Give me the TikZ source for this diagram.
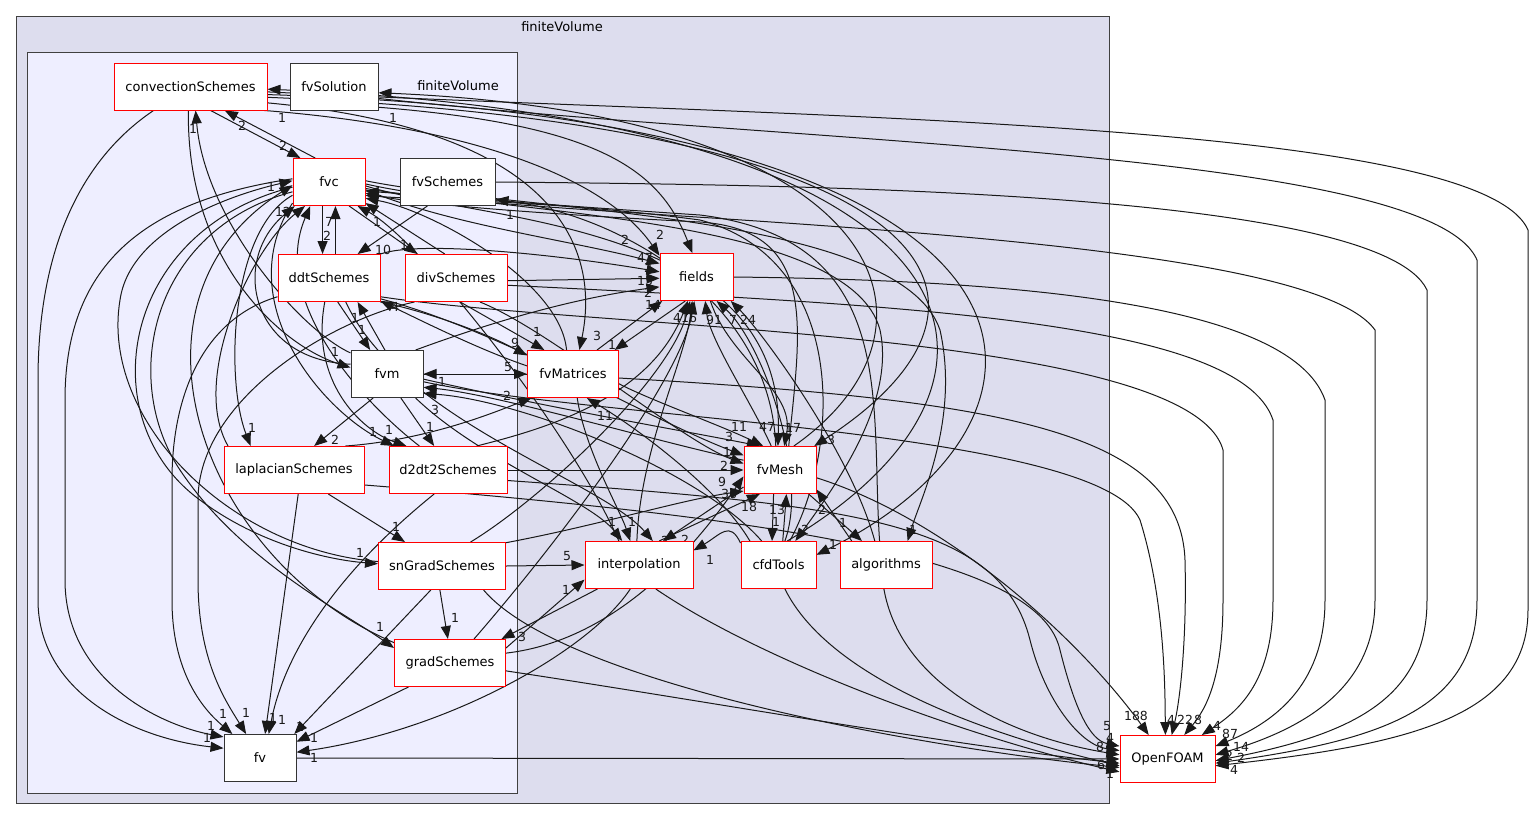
\documentclass[tikz,border=0pt]{standalone}
\usepackage{fontspec}
\setmainfont{DejaVu Sans}
\usepackage{tikz}
\usetikzlibrary{arrows.meta}
\definecolor{outerfill}{HTML}{DDDDEE}
\definecolor{innerfill}{HTML}{EEEEFF}
\pgfdeclarelayer{back}
\pgfdeclarelayer{links}
\pgfsetlayers{back,links,main}
\tikzset{
  dirnode/.style={draw=red, fill=white, line width=1pt, minimum height=47pt, inner sep=0pt, font=\fontsize{13}{15}\selectfont},
  leafnode/.style={dirnode, draw=black!80},
  dep/.style={-{Triangle[length=13pt,width=10pt]}, line width=1pt, black!90},
  cnt/.style={font=\fontsize{12.5}{13}\selectfont, inner sep=0pt},
  title/.style={font=\fontsize{13}{15}\selectfont},
}
\begin{document}
\begin{tikzpicture}[x=1pt, y=-1pt]
\useasboundingbox (0,0) rectangle (1535,820);
        % clusters
        \begin{pgfonlayer}{back}
        \draw[fill=outerfill, draw=black!75, line width=1pt] (16,16) rectangle (1109,803);
        \draw[fill=innerfill, draw=black!75, line width=1pt] (27,52) rectangle (517,793);
        \end{pgfonlayer}
        \node[title] (outertitle) at (562,27) {finiteVolume};
        \node[title] (innertitle) at (458,86) {finiteVolume};

        % directories
        \node[dirnode, minimum width=153pt] (cs) at (190.5,86.5) {convectionSchemes};
        \node[leafnode, minimum width=88pt] (fvsol) at (334,86.5) {fvSolution};
        \node[dirnode, minimum width=72pt] (fvc) at (329,182) {fvc};
        \node[leafnode, minimum width=95pt] (fvsch) at (447.5,182) {fvSchemes};
        \node[dirnode, minimum width=102pt] (ddt) at (329,278) {ddtSchemes};
        \node[dirnode, minimum width=102pt] (div) at (456,278) {divSchemes};
        \node[leafnode, minimum width=72pt] (fvm) at (387,374) {fvm};
        \node[dirnode, minimum width=140pt] (lap) at (294,470) {laplacianSchemes};
        \node[dirnode, minimum width=118pt] (d2dt2) at (448,470) {d2dt2Schemes};
        \node[dirnode, minimum width=127pt] (sngrad) at (442,566) {snGradSchemes};
        \node[dirnode, minimum width=111pt] (grad) at (450,663) {gradSchemes};
        \node[leafnode, minimum width=72pt] (fv) at (260,758) {fv};
        \node[dirnode, minimum width=73pt] (fields) at (696.5,277) {fields};
        \node[dirnode, minimum width=91pt] (fvmat) at (573,374) {fvMatrices};
        \node[dirnode, minimum width=72pt] (fvmesh) at (780,470) {fvMesh};
        \node[dirnode, minimum width=108pt] (interp) at (639,565) {interpolation};
        \node[dirnode, minimum width=75pt] (cfd) at (778.5,565) {cfdTools};
        \node[dirnode, minimum width=92pt] (algo) at (886,565) {algorithms};
        \node[dirnode, minimum width=95pt] (of) at (1167.5,759) {OpenFOAM};

        \begin{pgfonlayer}{links}
        % convectionSchemes
        \draw[dep] (cs.-50) -- (fvc.140) node[cnt] at (283,146) {2};
        \draw[dep] (cs.-147) .. controls (80,160) and (38,250) .. (38,380) -- (38,600) .. controls (38,690) and (130,738) .. (fv.165) node[cnt] at (207,738) {1};
        \draw[dep] (cs.-95) .. controls (186,260) and (280,345) .. (fvm.170) node[cnt] at (335,352) {1};
        \draw[dep] (cs.-18) .. controls (450,125) and (600,170) .. (fields.150) node[cnt] at (625,240) {2};
        \draw[dep] (cs.-12) .. controls (560,130) and (600,250) .. (fvmat.75) node[cnt] at (597,336) {3};
        \draw[dep] (cs.-8) .. controls (950,125) and (1040,300) .. (fvmesh.35) node[cnt] at (831,440) {3};
        \draw[dep] (cs.-6) .. controls (1100,120) and (1090,420) .. (cfd.15) node[cnt] at (833,545) {1};
        \draw[dep] (cs.-4) .. controls (800,118) and (1480,120) .. (1528,230) -- (1528,610) .. controls (1528,720) and (1400,745) .. (of.-8) node[cnt] at (1241,758) {2};
        \draw[dep] (fvsol.-15) .. controls (800,145) and (1430,150) .. (1477,260) -- (1477,600) .. controls (1477,710) and (1380,740) .. (of.-5) node[cnt] at (1234,770) {4};
        \draw[dep] (fvsol.-25) .. controls (600,125) and (660,170) .. (fields.100) node[cnt] at (660,235) {2};

        % fvc
        \draw[dep] (fvc.120) -- (cs.-35) node[cnt] at (242,126) {2};
        \draw[dep] (fvc.-105) -- (ddt.105) node[cnt] at (327,236) {2};
        \draw[dep] (ddt.75) -- (fvc.-75) node[cnt] at (329,222) {7};
        \draw[dep] (fvc.-50) -- (div.148) node[cnt] at (404,245) {1};
        \draw[dep] (div.115) -- (fvc.-30) node[cnt] at (377,222) {1};
        \draw[dep] (fvc.-12) .. controls (450,225) and (570,240) .. (fields.160) node[cnt] at (645,258) {47};
        \draw[dep] (fvc.-6) .. controls (480,222) and (785,220) .. (fvmesh.95) node[cnt] at (767,427) {47};
        \draw[dep] (fvc.-3) .. controls (500,215) and (850,215) .. (880,330) .. controls (895,400) and (840,480) .. (cfd.55) node[cnt] at (805,530) {2};
        \draw[dep] (fvc.2) .. controls (520,212) and (900,212) .. (940,330) .. controls (960,420) and (920,500) .. (algo.48) node[cnt] at (913,530) {1};
        \draw[dep] (fvc.-10) .. controls (550,222) and (1300,225) .. (1375,330) -- (1375,600) .. controls (1375,690) and (1300,730) .. (of.5) node[cnt] at (1241,747) {14};
        \draw[dep] (fvc.-160) .. controls (230,230) and (225,380) .. (lap.151) node[cnt] at (252,428) {1};
        \draw[dep] (fvc.-150) .. controls (230,300) and (320,410) .. (d2dt2.156) node[cnt] at (373,432) {1};
        \draw[dep] (fvc.-172) .. controls (120,230) and (90,420) .. (200,500) .. controls (260,545) and (330,560) .. (sngrad.178) node[cnt] at (360,553) {1};
        \draw[dep] (fvc.-165) .. controls (150,230) and (120,380) .. (180,470) .. controls (240,560) and (340,610) .. (grad.165) node[cnt] at (380,627) {1};
        \draw[dep] (fvc.175) .. controls (150,200) and (65,260) .. (65,400) -- (65,580) .. controls (65,680) and (160,725) .. (fv.150) node[cnt] at (211,726) {1};
        \draw[dep] (fvsch.-130) -- (ddt.40) node[cnt] at (383,250) {10};
        \draw[dep] (fvsch.east) .. controls (800,185) and (1380,190) .. (1427,290) -- (1427,600) .. controls (1427,700) and (1350,735) .. (of.-2) node[cnt] at (1229,756) {2};

        % schemes
        \draw[dep] (ddt.-160) .. controls (200,320) and (172,400) .. (172,480) -- (172,600) .. controls (172,680) and (210,715) .. (fv.139) node[cnt] at (223,714) {1};
        \draw[dep] (ddt.-70) -- (fvm.125) node[cnt] at (362,330) {1};
        \draw[dep] (ddt.-100) .. controls (310,380) and (360,430) .. (d2dt2.150) node[cnt] at (389,430) {1};
        \draw[dep] (ddt.-25) .. controls (420,310) and (480,330) .. (fvmat.158) node[cnt] at (515,343) {9};
        \draw[dep] (ddt.25) .. controls (420,240) and (560,255) .. (fields.172) node[cnt] at (648,268) {2};
        \draw[dep] (ddt.-22) .. controls (500,330) and (650,420) .. (fvmesh.158) node[cnt] at (729,437) {3};
        \draw[dep] (ddt.-55) .. controls (400,420) and (600,480) .. (interp.60) node[cnt] at (665,541) {2};
        \draw[dep] (ddt.-20) .. controls (600,330) and (1190,330) .. (1223,450) -- (1223,600) .. controls (1223,680) and (1205,710) .. (of.55) node[cnt] at (1198,720) {8};
        \draw[dep] (div.-150) .. controls (330,320) and (198,400) .. (198,500) -- (198,580) .. controls (198,660) and (225,700) .. (fv.120) node[cnt] at (246,713) {1};
        \draw[dep] (div.-80) -- (fvmat.140) node[cnt] at (537,332) {1};
        \draw[dep] (div.-3) -- (fields.-178) node[cnt] at (645,281) {15};
        \draw[dep] (div.-45) .. controls (550,330) and (680,440) .. (fvmesh.170) node[cnt] at (727,452) {1};
        \draw[dep] (div.-8) .. controls (900,305) and (1240,320) .. (1273,420) -- (1273,600) .. controls (1273,680) and (1240,710) .. (of.35) node[cnt] at (1217,726) {4};
        \draw[dep] (lap.160) .. controls (190,380) and (250,250) .. (fvc.-135) node[cnt] at (283,212) {12};
        \draw[dep] (lap.-80) -- (fv.78) node[cnt] at (273,718) {1};
        \draw[dep] (lap.-35) -- (sngrad.147) node[cnt] at (396,527) {1};
        \draw[dep] (lap.25) .. controls (430,440) and (500,410) .. (fvmat.-150) node[cnt] at (507,396) {2};
        \draw[dep] (lap.-12) .. controls (800,520) and (1040,560) .. (1060,650) .. controls (1075,710) and (1090,740) .. (of.165) node[cnt] at (1107,726) {5};
        \draw[dep] (d2dt2.140) .. controls (360,400) and (270,300) .. (fvc.-128);
        \draw[dep] (d2dt2.-120) .. controls (340,570) and (285,650) .. (fv.70) node[cnt] at (282,720) {1};
        \draw[dep] (d2dt2.40) .. controls (540,430) and (650,400) .. (fields.-110);
        \draw[dep] (d2dt2.east) -- (fvmesh.west) node[cnt] at (724,466) {2};
        \draw[dep] (d2dt2.-10) .. controls (850,505) and (1000,520) .. (1030,640) .. controls (1045,700) and (1080,745) .. (of.170) node[cnt] at (1110,738) {4};
        \draw[dep] (sngrad.176) .. controls (230,550) and (100,420) .. (120,300) .. controls (130,230) and (230,195) .. (fvc.178) node[cnt] at (271,187) {1};
        \draw[dep] (sngrad.-115) -- (fv.35) node[cnt] at (300,727) {1};
        \draw[dep] (sngrad.-95) -- (grad.95) node[cnt] at (455,618) {1};
        \draw[dep] (sngrad.east) -- (interp.west) node[cnt] at (567,556) {5};
        \draw[dep] (sngrad.40) .. controls (540,500) and (670,380) .. (fields.-105);
        \draw[dep] (sngrad.20) .. controls (600,525) and (680,500) .. (fvmesh.-150) node[cnt] at (729,494) {36};
        \draw[dep] (sngrad.-30) .. controls (560,680) and (900,745) .. (of.-170) node[cnt] at (1100,747) {8};
        \draw[dep] (grad.160) .. controls (200,560) and (110,300) .. (fvc.-175);
        \draw[dep] (grad.-150) -- (fv.24) node[cnt] at (314,738) {1};
        \draw[dep] (grad.15) -- (interp.-165) node[cnt] at (566,590) {1};
        \draw[dep] (grad.45) .. controls (560,540) and (680,380) .. (fields.-95) node[cnt] at (689,318) {16};
        \draw[dep] (grad.10) .. controls (620,640) and (700,540) .. (fvmesh.-170) node[cnt] at (722,482) {9};
        \draw[dep] (grad.-8) .. controls (700,700) and (950,745) .. (of.-175) node[cnt] at (1110,756) {9};

        % fvm and fvMatrices
        \draw[dep] (fvm.150) .. controls (300,330) and (205,220) .. (cs.-78) node[cnt] at (193,129) {1};
        \draw[dep] (fvm.95) -- (ddt.-40) node[cnt] at (355,318) {1};
        \draw[dep] (fvm.east) -- (fvmat.west) node[cnt] at (508,367) {5};
        \draw[dep] (fvmat.west) -- (fvm.east) node[cnt] at (442,382) {1};
        \draw[dep] (fvm.-120) -- (lap.50) node[cnt] at (335,440) {2};
        \draw[dep] (fvm.-60) -- (d2dt2.120) node[cnt] at (430,427) {1};
        \draw[dep] (fvm.40) .. controls (470,330) and (560,300) .. (fields.-165) node[cnt] at (648,293) {2};
        \draw[dep] (fvm.-8) .. controls (560,410) and (680,430) .. (fvmesh.130) node[cnt] at (743,427) {1};
        \draw[dep] (fvm.165) .. controls (250,360) and (230,260) .. (fvc.-145);
        \draw[dep] (fvm.-40) .. controls (480,460) and (590,500) .. (interp.125) node[cnt] at (612,522) {1};
        \draw[dep] (fvm.-12) .. controls (600,420) and (1100,430) .. (1140,520) .. controls (1165,600) and (1165,690) .. (of.95) node[cnt] at (1171,720) {4};
        \draw[dep] (fvmat.45) -- (fields.-145) node[cnt] at (653,305) {14};
        \draw[dep] (fvmat.170) .. controls (480,350) and (420,320) .. (ddt.-24) node[cnt] at (395,307) {4};
        \draw[dep] (fvmat.-12) .. controls (650,400) and (720,425) .. (fvmesh.125) node[cnt] at (735,427) {1};
        \draw[dep] (fvmat.-80) .. controls (585,450) and (620,510) .. (interp.110) node[cnt] at (632,522) {1};
        \draw[dep] (fvmat.105) .. controls (560,280) and (430,210) .. (fvc.-24);
        \draw[dep] (fvmat.-5) .. controls (1000,400) and (1180,430) .. (1185,560) .. controls (1187,640) and (1180,700) .. (of.80) node[cnt] at (1185,720) {22};

        % fields and fvMesh
        \draw[dep] (fields.-115) -- (fvmat.30) node[cnt] at (612,345) {1};
        \draw[dep] (fields.-60) .. controls (730,360) and (795,390) .. (fvmesh.80) node[cnt] at (793,428) {17};
        \draw[dep] (fields.east) .. controls (1000,280) and (1290,300) .. (1325,400) -- (1325,600) .. controls (1325,680) and (1280,720) .. (of.15) node[cnt] at (1230,734) {87};
        \draw[dep] (fvmesh.110) .. controls (750,400) and (710,340) .. (fields.-70) node[cnt] at (714,320) {91};
        \draw[dep] (fvmesh.165) .. controls (650,440) and (500,395) .. (fvm.-20) node[cnt] at (435,410) {3};
        \draw[dep] (fvmesh.100) .. controls (770,300) and (620,215) .. (fvsch.-20) node[cnt] at (510,215) {1};
        \draw[dep] (fvmesh.60) .. controls (960,330) and (900,115) .. (fvsol.-8) node[cnt] at (393,118) {1};
        \draw[dep] (fvmesh.70) .. controls (800,330) and (820,230) .. (700,222) .. controls (560,215) and (420,205) .. (fvc.-17);
        \draw[dep] (fvmesh.-105) -- (cfd.105) node[cnt] at (776,522) {1};
        \draw[dep] (fvmesh.-40) -- (algo.135) node[cnt] at (843,523) {1};
        \draw[dep] (fvmesh.-155) -- (interp.45) node[cnt] at (685,540) {2};
        \draw[dep] (fvmesh.-12) .. controls (950,520) and (1080,640) .. (of.128) node[cnt] at (1136,716) {188};

        % interpolation, cfdTools, algorithms
        \draw[dep] (interp.-110) .. controls (590,650) and (450,730) .. (fv.9) node[cnt] at (314,758) {1};
        \draw[dep] (interp.-150) -- (grad.25) node[cnt] at (522,637) {3};
        \draw[dep] (interp.95) .. controls (640,450) and (685,360) .. (fields.-100) node[cnt] at (677,318) {4};
        \draw[dep] (interp.50) -- (fvmesh.-130) node[cnt] at (749,507) {18};
        \draw[dep] (interp.130) .. controls (570,430) and (420,240) .. (fvc.-40);
        \draw[dep] (interp.-55) .. controls (760,660) and (960,735) .. (of.-165) node[cnt] at (1101,765) {6};
        \draw[dep] (cfd.80) -- (fvmesh.-75) node[cnt] at (777,510) {13};
        \draw[dep] (cfd.150) .. controls (730,520) and (720,535) .. (interp.15) node[cnt] at (710,560) {1};
        \draw[dep] (cfd.140) .. controls (720,490) and (640,430) .. (fvmat.-60) node[cnt] at (605,416) {11};
        \draw[dep] (cfd.125) .. controls (700,470) and (520,400) .. (fvm.-28);
        \draw[dep] (cfd.75) .. controls (810,470) and (760,340) .. (fields.-50) node[cnt] at (733,320) {7};
        \draw[dep] (cfd.65) .. controls (840,450) and (850,260) .. (700,220) .. controls (550,200) and (420,200) .. (fvc.-20);
        \draw[dep] (cfd.70) .. controls (1060,380) and (1000,120) .. (cs.-2) node[cnt] at (282,118) {1};
        \draw[dep] (cfd.-75) .. controls (830,680) and (990,735) .. (of.-172);
        \draw[dep] (algo.145) -- (fvmesh.-28) node[cnt] at (822,510) {2};
        \draw[dep] (algo.115) .. controls (850,450) and (760,330) .. (fields.-35) node[cnt] at (748,320) {24};
        \draw[dep] (algo.105) .. controls (870,400) and (900,240) .. (700,215) .. controls (550,205) and (420,195) .. (fvc.-14);
        \draw[dep] (algo.-95) .. controls (900,680) and (1000,735) .. (of.175);

        % fv
        \draw[dep] (fv.east) -- (of.west) node[cnt] at (1110,774) {1};
        \end{pgfonlayer}
    \end{tikzpicture}
\end{document}
